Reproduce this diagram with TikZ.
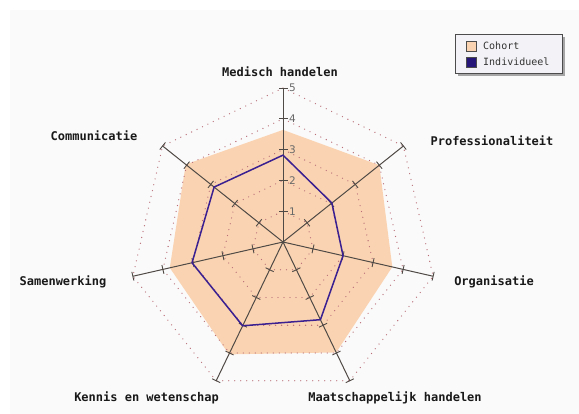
\documentclass[tikz,border=0pt]{standalone}
\usepackage{fontspec}
\setmainfont{DejaVu Sans}
\newfontfamily\monofont{DejaVu Sans Mono}
\usetikzlibrary{calc}
\definecolor{cohortfill}{RGB}{250,212,178}
\definecolor{indiv}{RGB}{58,32,145}
\definecolor{indivbox}{RGB}{38,22,120}
\definecolor{axiscol}{RGB}{80,74,70}
\definecolor{gridcol}{RGB}{185,110,120}
\definecolor{panelcol}{RGB}{250,250,250}
\definecolor{legendbg}{RGB}{243,243,247}
\definecolor{numcol}{RGB}{105,105,105}
\tikzset{
  gridline/.style={gridcol, line width=1.3pt, line cap=round, dash pattern=on 0pt off 6pt},
  axisline/.style={axiscol, line width=1pt},
  tickmark/.style={axiscol, line width=0.9pt},
  indivline/.style={indiv, line width=1.5pt, line join=round},
  catlabel/.style={font=\monofont\bfseries\fontsize{12}{14}\selectfont, text=black!90, inner sep=0pt},
  numlabel/.style={font=\fontsize{10.5}{12}\selectfont, text=numcol, inner sep=0pt, anchor=west},
  legtext/.style={font=\monofont\fontsize{10}{12}\selectfont, text=black!80, inner sep=0pt, anchor=west},
}
\begin{document}
\begin{tikzpicture}[x=1pt,y=1pt]
\useasboundingbox (0,0) rectangle (579,414);
\fill[panelcol] (10,0) rectangle (579,404);
\def\u{30.8}
\begin{scope}[shift={(283,172)}]
  \coordinate (O) at (0,0);
  % cohort polygon
  \fill[cohortfill] (90:{3.64*\u}) -- (38.571:{4*\u}) -- (-12.857:{3.64*\u})
     -- (-64.286:{3.98*\u}) -- (-115.714:{4.05*\u}) -- (-167.143:{3.77*\u})
     -- (141.429:{4.04*\u}) -- cycle;
  % grid
  \foreach \r in {1,...,5}{
    \draw[gridline] (90:{\r*\u}) \foreach \k in {1,...,6}{ -- ({90-\k*360/7}:{\r*\u}) } -- cycle;
  }
  % axes with ticks
  \foreach \k in {0,...,6}{
    \begin{scope}[rotate={90-\k*360/7}]
      \draw[axisline] (0,0) -- ({5*\u},0);
      \foreach \t in {1,...,5}{
        \draw[tickmark] ({\t*\u},-4.5) -- ({\t*\u},4.5);
      }
    \end{scope}
  }
  % individual polygon
  \draw[indivline] (90:{2.82*\u}) -- (38.571:{2.03*\u}) -- (-12.857:{2.0*\u})
     -- (-64.286:{2.8*\u}) -- (-115.714:{3.02*\u}) -- (-167.143:{3.03*\u})
     -- (141.429:{2.86*\u}) -- cycle;
  % scale numbers
  \foreach \t in {1,...,5}{
    \node[numlabel] (n\t) at (6,{\t*\u}) {\t};
  }
\end{scope}
% category labels
\node[catlabel] (l0) at (280,342) {Medisch handelen};
\node[catlabel] (l1) at (492,273.5) {Professionaliteit};
\node[catlabel] (l2) at (494,132.5) {Organisatie};
\node[catlabel] (l3) at (395,16.5) {Maatschappelijk handelen};
\node[catlabel] (l4) at (146.5,16.5) {Kennis en wetenschap};
\node[catlabel] (l5) at (63,132.5) {Samenwerking};
\node[catlabel] (l6) at (94,278.5) {Communicatie};
% legend
\fill[black!35] (458,338) rectangle (565,377);
\draw[black!70, fill=legendbg, line width=0.8pt] (455,341) rectangle (562,380);
\draw[black!70, fill=cohortfill, line width=0.7pt] (466,363) rectangle (476,373);
\draw[black!70, fill=indivbox, line width=0.7pt] (466,347) rectangle (476,357);
\node[legtext] (lc) at (483,368) {Cohort};
\node[legtext] (li) at (483,352) {Individueel};
\end{tikzpicture}
\end{document}
